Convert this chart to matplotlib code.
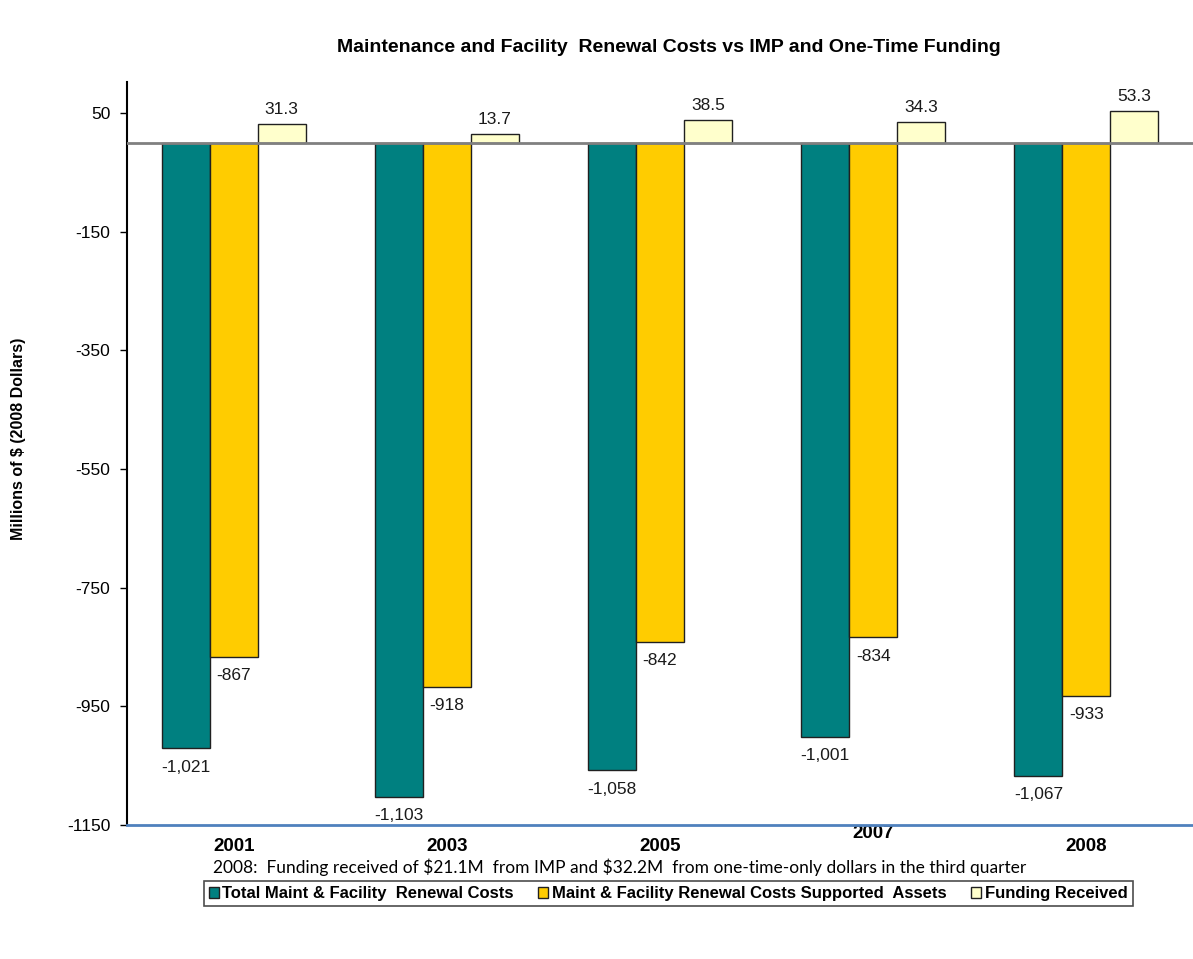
import matplotlib.pyplot as plt
import matplotlib.transforms as mtransforms
import numpy as np

years = ["2001", "2003", "2005", "2007", "2008"]
total_costs = [-1021, -1103, -1058, -1001, -1067]
supported_costs = [-867, -918, -842, -834, -933]
funding = [31.3, 13.7, 38.5, 34.3, 53.3]
series_names = [
    "Total Maint & Facility  Renewal Costs",
    "Maint & Facility Renewal Costs Supported  Assets",
    "Funding Received",
]
y_ticks = [50, -150, -350, -550, -750, -950, -1150]

colors = ["#008080", "#FFCC00", "#FFFFCC"]

plt.rcParams["font.family"] = ["Liberation Sans", "DejaVu Sans"]

fig = plt.figure(figsize=(11.93, 9.59), dpi=100)
ax = fig.add_axes([0.1065, 0.1397, 0.8935, 0.7748])

x = np.arange(len(years))
w = 0.225
series = [total_costs, supported_costs, funding]
for i, vals in enumerate(series):
    pos = x + (i - 1) * w
    bars = ax.bar(pos, vals, width=w, color=colors[i], edgecolor="#202020",
                  linewidth=1.0, label=series_names[i], zorder=3)
    for b, v in zip(bars, vals):
        cx = b.get_x() + b.get_width() / 2
        if v < 0:
            ax.annotate(f"{v:,.0f}", (cx, v), xytext=(0, -8), textcoords="offset points",
                        ha="center", va="top", fontsize=12.5, color="#1a1a1a")
        else:
            ax.annotate(f"{v:.1f}", (cx, v), xytext=(0, 5), textcoords="offset points",
                        ha="center", va="bottom", fontsize=12.5, color="#1a1a1a")

ax.axhline(0, color="#808080", linewidth=2, zorder=4)

ax.set_xlim(-0.5, len(years) - 0.5)
ax.set_ylim(-1150, 102)
ax.set_yticks(y_ticks)
ax.set_yticklabels([str(t) for t in y_ticks], fontsize=12.5)
ax.tick_params(axis="y", direction="out", length=5, width=1, pad=7)
ax.set_xticks(x)
ax.set_xticklabels(years, fontsize=13.5, fontweight="bold")
ax.tick_params(axis="x", length=0, pad=9)
# the 2007 label sits a little higher than the rest
lbl = ax.get_xticklabels()[3]
lbl.set_transform(lbl.get_transform() + mtransforms.ScaledTranslation(0, 0.13, fig.dpi_scale_trans))

for side in ["top", "right"]:
    ax.spines[side].set_visible(False)
ax.spines["left"].set_linewidth(1.5)
ax.spines["bottom"].set_color("#4F81BD")
ax.spines["bottom"].set_linewidth(2)

ax.set_ylabel("Millions of \\$ (2008 Dollars)", fontsize=11.5, fontweight="bold")
ax.yaxis.set_label_coords(-0.095, 0.52)

fig.text(0.561, 0.95, "Maintenance and Facility  Renewal Costs vs IMP and One-Time Funding",
         ha="center", va="center", fontsize=14, fontweight="bold")
fig.text(0.5195, 0.0955, "2008:  Funding received of \\$21.1M  from IMP and \\$32.2M  from one-time-only dollars in the third quarter",
         ha="center", va="center", fontsize=12.5, family="Lato")

leg = fig.legend(loc="center", bbox_to_anchor=(0.56, 0.068), ncol=3,
                 prop={"weight": "bold", "size": 12}, frameon=True, fancybox=False,
                 edgecolor="#202020", handlelength=0.6, handleheight=0.6,
                 handletextpad=0.2, columnspacing=1.5, borderpad=0.3)
leg.get_frame().set_linewidth(1.2)

fig.savefig("out.png", dpi=100)
